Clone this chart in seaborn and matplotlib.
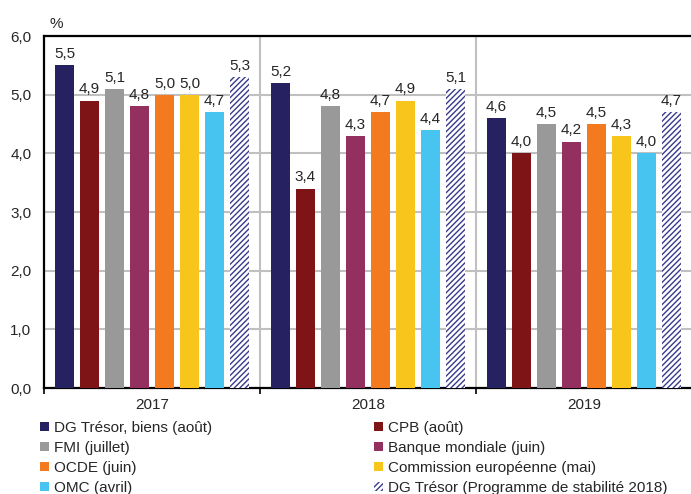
import pandas as pd
import matplotlib
matplotlib.use('Agg')
import matplotlib.pyplot as plt
import seaborn as sns

# Data
years = ['2017', '2018', '2019']
sources = ['DG Trésor, biens (août)', 'CPB (août)', 'FMI (juillet)', 'Banque mondiale (juin)',
           'OCDE (juin)', 'Commission européenne (mai)', 'OMC (avril)',
           'DG Trésor (Programme de stabilité 2018)']
dg_tresor = [5.5, 5.2, 4.6]
cpb = [4.9, 3.4, 4.0]
fmi = [5.1, 4.8, 4.5]
banque_mondiale = [4.8, 4.3, 4.2]
ocde = [5.0, 4.7, 4.5]
commission = [5.0, 4.9, 4.3]
omc = [4.7, 4.4, 4.0]
dg_tresor_ps = [5.3, 5.1, 4.7]
colors = ['#262262', '#7E1416', '#999999', '#94305F', '#F47A20', '#F8C51C', '#47C5F0', 'white']

series = [dg_tresor, cpb, fmi, banque_mondiale, ocde, commission, omc, dg_tresor_ps]
rows = []
for src, vals in zip(sources, series):
    for yr, v in zip(years, vals):
        rows.append({'year': yr, 'source': src, 'value': v})
df = pd.DataFrame(rows)

sns.set_style('white')
plt.rcParams['font.family'] = ['Liberation Sans', 'DejaVu Sans']
plt.rcParams['hatch.linewidth'] = 1.0
hatch_color = '#3A3A8C'

fig = plt.figure(figsize=(6.91, 4.94), dpi=100)
ax = fig.add_axes([44 / 691, 1 - 388 / 494, 648 / 691, 352 / 494])

sns.barplot(data=df, x='year', y='value', hue='source', order=years, hue_order=sources,
            palette=colors, width=0.926, gap=0.24, saturation=1, ax=ax, zorder=3)

# hatched last series
for bar in ax.containers[-1]:
    bar.set_hatch('//////')
    bar.set_edgecolor(hatch_color)
    bar.set_linewidth(0)
for cont in ax.containers[:-1]:
    for bar in cont:
        bar.set_linewidth(0)

for cont in ax.containers:
    ax.bar_label(cont, labels=[f'{b.get_height():.1f}'.replace('.', ',') for b in cont],
                 padding=3, fontsize=11)

ax.set_ylim(0, 6)
ax.set_xlim(-0.5, 2.5)
ax.set_yticks([0, 1, 2, 3, 4, 5, 6])
ax.set_yticklabels([f'{t:.1f}'.replace('.', ',') for t in range(7)], fontsize=11)
ax.tick_params(axis='y', length=0, pad=9)
ax.set_xticks([0, 1, 2])
ax.set_xticklabels(years, fontsize=11)
ax.set_xticks([-0.5, 0.5, 1.5, 2.5], minor=True)
ax.tick_params(axis='x', which='major', length=0, pad=7)
ax.tick_params(axis='x', which='minor', length=4, width=1.2, color='black', direction='out', bottom=True)
ax.set_xlabel('')
ax.set_ylabel('')

ax.yaxis.grid(True, color='#C0C0C0', linewidth=1.5, zorder=0)
for xv in [0.5, 1.5]:
    ax.axvline(xv, color='#C0C0C0', linewidth=1.5, zorder=0)
for side in ['left', 'bottom', 'top']:
    ax.spines[side].set_color('black')
    ax.spines[side].set_linewidth(1.6)
ax.spines['right'].set_visible(False)

fig.text(0.082, 0.952, '%', fontsize=11, ha='center', va='center')

handles, labels = ax.get_legend_handles_labels()
ax.legend_.remove()
order = [0, 2, 4, 6, 1, 3, 5, 7]
leg = fig.legend([handles[i] for i in order], [labels[i] for i in order], ncol=2,
                 loc='upper left', bbox_to_anchor=(40 / 691, 1 - 421 / 494),
                 frameon=False, fontsize=11, handlelength=0.6, handleheight=0.6,
                 handletextpad=0.3, columnspacing=10.6, labelspacing=0.39,
                 borderaxespad=0, borderpad=0)
for h in leg.legend_handles:
    h.set_linewidth(0)
leg.legend_handles[-1].set_hatch('//////')
leg.legend_handles[-1].set_edgecolor(hatch_color)
leg.legend_handles[-1].set_facecolor('white')

fig.savefig('out.png', dpi=100)
